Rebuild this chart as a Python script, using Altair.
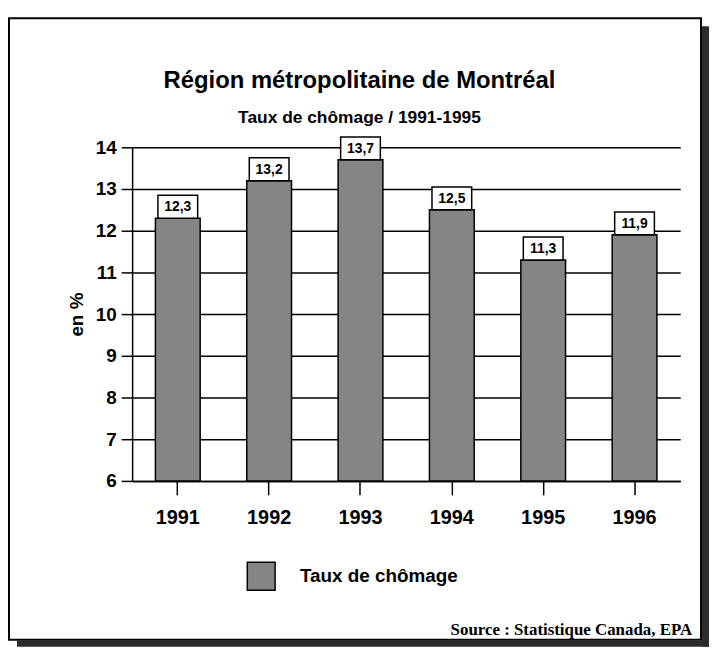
import altair as alt
import pandas as pd

# ---- data ----
years = ["1991", "1992", "1993", "1994", "1995", "1996"]
rates = [12.3, 13.2, 13.7, 12.5, 11.3, 11.9]
y_ticks = [6, 7, 8, 9, 10, 11, 12, 13, 14]
series_name = "Taux de chômage"
title_text = ["Région métropolitaine de Montréal"]
subtitle_text = ["Taux de chômage / 1991-1995"]
y_title = "en %"
source_text = ["Source : Statistique Canada, EPA"]

df = pd.DataFrame({"annee": years, "taux": rates, "serie": [series_name] * len(years)})
df["etiquette"] = [f"{v:.1f}".replace(".", ",") for v in rates]

SANS = "Liberation Sans, Arial, sans-serif"
SERIF = "Liberation Serif, Times New Roman, serif"

BAR_FILL = "#858585"

x_enc = alt.X(
    "annee:N",
    sort=years,
    scale=alt.Scale(paddingInner=0.51, paddingOuter=0.255),
    axis=alt.Axis(
        title=None, labelAngle=0, labelFont=SANS, labelFontSize=20,
        labelFontWeight="bold", labelColor="black", labelPadding=13,
        tickSize=14, tickWidth=1.5, tickColor="black",
        domainColor="black", domainWidth=1.5, grid=False,
    ),
)
y_enc = alt.Y(
    "taux:Q",
    scale=alt.Scale(domain=[6, 14], nice=False, zero=False),
    axis=alt.Axis(
        values=y_ticks, title=y_title, titleFont=SANS, titleFontSize=19,
        titleFontWeight="bold", titleColor="black", titlePadding=9,
        labelFont=SANS, labelFontSize=19, labelFontWeight="bold",
        labelColor="black", labelPadding=5,
        tickSize=11, tickWidth=1.5, tickColor="black",
        domainColor="black", domainWidth=1.5,
        grid=True, gridColor="black", gridWidth=1.5, gridOpacity=1,
    ),
)

base = alt.Chart(df)

bars = base.mark_bar(stroke="black", strokeWidth=1.5).encode(
    x=x_enc,
    y=y_enc,
    y2=alt.datum(6),
    color=alt.Color(
        "serie:N",
        scale=alt.Scale(range=[BAR_FILL]),
        legend=alt.Legend(
            title=None, orient="none", legendX=115, legendY=417,
            symbolType="square", symbolSize=784, symbolStrokeColor="black",
            symbolStrokeWidth=1.5, symbolFillColor=BAR_FILL,
            labelFont=SANS, labelFontSize=19, labelFontWeight="bold",
            labelColor="black", labelOffset=24, padding=0,
        ),
    ),
)

BOX = "M-1,-0.575H1V0.575H-1Z"
boxes = base.mark_point(
    shape=BOX, size=1600, filled=True, fill="white", stroke="black",
    strokeWidth=1.5, opacity=1, yOffset=-11.5,
).encode(x="annee:N", y="taux:Q")

labels = base.mark_text(
    font=SANS, fontSize=14, fontWeight="bold", color="black",
    baseline="middle", align="center", dy=-11,
).encode(x="annee:N", y="taux:Q", text="etiquette:N")

# decorative frame and shadow of the scanned figure
one = pd.DataFrame({"k": [0]})
frame = alt.Chart(one).mark_rect(fill="transparent", stroke="black", strokeWidth=2).encode(
    x=alt.value(-124), x2=alt.value(573), y=alt.value(-130), y2=alt.value(496)
)
shadow_r = alt.Chart(one).mark_rect(fill="#2b2b2b").encode(
    x=alt.value(574), x2=alt.value(581), y=alt.value(-122), y2=alt.value(503)
)
shadow_b = alt.Chart(one).mark_rect(fill="#2b2b2b").encode(
    x=alt.value(-116), x2=alt.value(581), y=alt.value(497), y2=alt.value(503)
)

title = alt.Chart(pd.DataFrame({"t": title_text})).mark_text(
    font=SANS, fontSize=24, fontWeight="bold", color="black",
    align="center", baseline="alphabetic",
).encode(text="t:N", x=alt.value(229), y=alt.value(-60))

subtitle = alt.Chart(pd.DataFrame({"t": subtitle_text})).mark_text(
    font=SANS, fontSize=17.5, fontWeight="bold", color="black",
    align="center", baseline="alphabetic",
).encode(text="t:N", x=alt.value(229), y=alt.value(-24))

source = alt.Chart(pd.DataFrame({"t": source_text})).mark_text(
    font=SERIF, fontSize=17, fontWeight="bold", color="black",
    align="right", baseline="alphabetic",
).encode(text="t:N", x=alt.value(564), y=alt.value(491))

chart = alt.layer(
    shadow_r, shadow_b, frame, bars, boxes, labels, title, subtitle, source
).properties(
    width=552, height=336,
    autosize=alt.AutoSizeParams(type="none"),
    padding={"left": 125, "top": 138, "right": 29, "bottom": 167},
    background="white",
).configure_view(stroke=None)

chart.save("out.html", embed_options={"renderer": "svg", "actions": False})
